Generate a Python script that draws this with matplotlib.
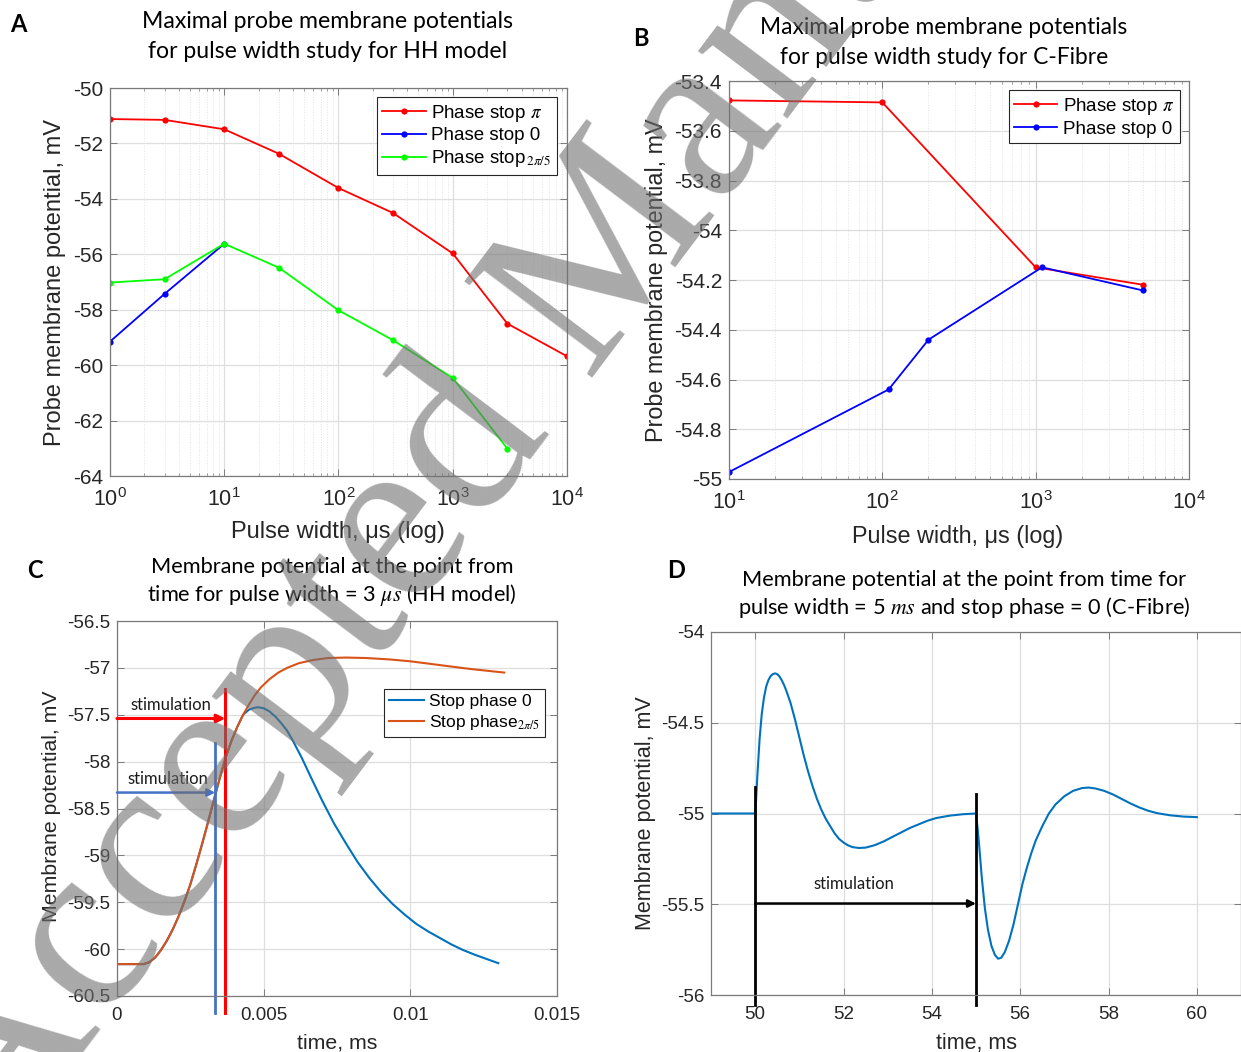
import numpy as np
import matplotlib.pyplot as plt
from matplotlib.ticker import FuncFormatter, LogLocator, NullFormatter, MultipleLocator

plt.rcParams['font.family'] = ['Liberation Sans', 'DejaVu Sans']
plt.rcParams['mathtext.fontset'] = 'stix'
plt.rcParams['axes.unicode_minus'] = False

# ---- panel A: HH model, max probe potential vs pulse width
a_width = [1, 3, 10, 30, 100, 300, 1000, 3000, 10000]
a_pi = [-51.12, -51.15, -51.49, -52.37, -53.61, -54.51, -55.97, -58.50, -59.68]
a_zero_width = [1, 3, 10]
a_zero = [-59.15, -57.43, -55.62]
a_2pi5_width = [1, 3, 10, 30, 100, 300, 1000, 3000]
a_2pi5 = [-57.02, -56.90, -55.62, -56.48, -58.02, -59.10, -60.46, -63.01]

# ---- panel B: C-Fibre
b_pi_width = [10, 100, 1000, 5000]
b_pi = [-53.478, -53.486, -54.149, -54.219]
b_zero_width = [10, 110, 200, 1100, 5000]
b_zero = [-54.972, -54.640, -54.440, -54.149, -54.242]

# ---- panel C: membrane potential vs time, pulse width 3 us
c_t_2pi5 = [0, 0.0009, 0.0011, 0.0013, 0.0015, 0.0017, 0.0019, 0.0021, 0.0023, 0.0025,
            0.0027, 0.0029, 0.0031, 0.0033, 0.0035, 0.0037, 0.0039, 0.0041, 0.0043,
            0.0045, 0.0047, 0.0049, 0.0052, 0.0055, 0.0058, 0.0062, 0.0067, 0.0072,
            0.0078, 0.0085, 0.0093, 0.0100, 0.0110, 0.0120, 0.0132]
c_v_2pi5 = [-60.16, -60.16, -60.14, -60.09, -60.01, -59.91, -59.79, -59.65, -59.49, -59.31,
            -59.10, -58.88, -58.65, -58.41, -58.18, -57.96, -57.78, -57.63, -57.50,
            -57.39, -57.29, -57.21, -57.12, -57.05, -57.00, -56.95, -56.915, -56.895,
            -56.89, -56.895, -56.91, -56.93, -56.97, -57.01, -57.05]
c_t_zero = [0, 0.0009, 0.0011, 0.0013, 0.0015, 0.0017, 0.0019, 0.0021, 0.0023, 0.0025,
            0.0027, 0.0029, 0.0031, 0.0033, 0.0035, 0.0037, 0.0039, 0.0041, 0.0043,
            0.0045, 0.0047, 0.0048, 0.0050, 0.0052, 0.0054, 0.0056, 0.0058, 0.0060,
            0.0063, 0.0066, 0.0070, 0.0074, 0.0078, 0.0082, 0.0086, 0.0090, 0.0094,
            0.0098, 0.0102, 0.0106, 0.0110, 0.0114, 0.0118, 0.0122, 0.0126, 0.0130]
c_v_zero = [-60.16, -60.16, -60.14, -60.09, -60.01, -59.91, -59.79, -59.65, -59.49, -59.31,
            -59.10, -58.88, -58.65, -58.41, -58.18, -57.96, -57.78, -57.63, -57.50,
            -57.445, -57.425, -57.42, -57.43, -57.465, -57.52, -57.59, -57.67, -57.78,
            -57.96, -58.16, -58.42, -58.66, -58.87, -59.07, -59.24, -59.39, -59.52,
            -59.63, -59.73, -59.81, -59.88, -59.95, -60.01, -60.06, -60.105, -60.15]

# ---- panel D: C-Fibre, pulse width 5 ms
d_t = [49, 50, 50.02, 50.05, 50.1, 50.15, 50.2, 50.25, 50.3, 50.35, 50.4, 50.45, 50.5,
       50.55, 50.6, 50.65, 50.7, 50.75, 50.8, 50.9, 51.0, 51.1, 51.2, 51.3, 51.4, 51.5,
       51.6, 51.7, 51.8, 51.9, 52.0, 52.1, 52.2, 52.35, 52.5, 52.7, 52.9, 53.1, 53.3,
       53.5, 53.7, 53.9, 54.1, 54.4, 54.7, 55.0,
       55.04, 55.08, 55.13, 55.2, 55.27, 55.35, 55.43, 55.5, 55.57, 55.65, 55.75, 55.85,
       55.95, 56.05, 56.15, 56.25, 56.35, 56.5, 56.65, 56.8, 57.0, 57.2, 57.4, 57.55,
       57.7, 57.9, 58.1, 58.3, 58.5, 58.7, 58.9, 59.1, 59.4, 59.7, 60.0]
d_v = [-55.0, -55.0, -54.93, -54.79, -54.59, -54.45, -54.36, -54.30, -54.265, -54.243,
       -54.232, -54.228, -54.232, -54.245, -54.265, -54.29, -54.32, -54.355, -54.39,
       -54.48, -54.58, -54.68, -54.77, -54.85, -54.92, -54.98, -55.03, -55.07, -55.11,
       -55.14, -55.16, -55.175, -55.185, -55.19, -55.188, -55.175, -55.155, -55.13,
       -55.105, -55.08, -55.06, -55.04, -55.025, -55.012, -55.004, -55.0,
       -55.09, -55.2, -55.35, -55.52, -55.64, -55.73, -55.78, -55.80, -55.795, -55.765,
       -55.70, -55.61, -55.50, -55.39, -55.30, -55.22, -55.15, -55.07, -55.0, -54.95,
       -54.905, -54.875, -54.86, -54.857, -54.862, -54.875, -54.895, -54.92, -54.945,
       -54.967, -54.985, -54.998, -55.01, -55.017, -55.02]

RED, BLUE, GREEN = (1, 0, 0), (0, 0, 1), (0, 1, 0)
M_BLUE, M_ORANGE = '#0072BD', '#D95319'
TITLE_FONT = 'Lato'

fig = plt.figure(figsize=(12.41, 10.52), dpi=100)


def px_rect(l, t, r, b):
    W, H = 1241, 1052
    return [l / W, 1 - b / H, (r - l) / W, (b - t) / H]


def fig_text(x, y, s, **kw):
    fig.text(x / 1241, 1 - y / 1052, s, ha='center', va='center', **kw)


def matlab_style(ax, fs, log=False):
    for s in ax.spines.values():
        s.set_color('#7a7a7a')
        s.set_linewidth(0.9)
    ax.tick_params(which='both', direction='in', top=True, right=True,
                   colors='#7a7a7a', labelcolor='#262626', labelsize=fs, pad=5)
    ax.tick_params(axis='x', pad=9 if log else 8)
    ax.tick_params(which='major', length=5, width=0.7)
    ax.tick_params(which='minor', length=2.5, width=0.5)
    ax.grid(True, which='major', color='#dedede', lw=0.9)
    if log:
        ax.grid(True, which='minor', axis='x', color='#e4e4e4', lw=0.7, ls=':')
        ax.tick_params(axis='x', labelsize=fs + 0.5)
    ax.set_axisbelow(True)


gfmt = FuncFormatter(lambda v, p: '{:g}'.format(round(v, 6)))


def matlab_legend(ax, anchor, fs, hl):
    leg = ax.legend(loc='upper right', bbox_to_anchor=anchor, fontsize=fs,
                    fancybox=False, edgecolor='#262626', framealpha=1, borderaxespad=0,
                    handlelength=hl, handletextpad=0.3, labelspacing=0.2, borderpad=0.3)
    leg.get_frame().set_linewidth(0.8)


# ================= A =================
ax = fig.add_axes(px_rect(110, 88, 567, 476))
ax.set_xscale('log')
ax.plot(a_width, a_pi, '-o', color=RED, lw=1.3, ms=4.5, mew=0, label=r'Phase stop $\pi$')
ax.plot(a_zero_width, a_zero, '-o', color=BLUE, lw=1.3, ms=4.5, mew=0, label='Phase stop 0')
ax.plot(a_2pi5_width, a_2pi5, '-o', color=GREEN, lw=1.3, ms=4.5, mew=0,
        label=r'Phase stop$_{\,2\pi/5}$')
ax.set_xlim(1, 1e4)
ax.set_ylim(-64, -50)
ax.yaxis.set_major_locator(MultipleLocator(2))
ax.yaxis.set_major_formatter(gfmt)
ax.xaxis.set_minor_locator(LogLocator(subs=np.arange(2, 10)))
ax.xaxis.set_minor_formatter(NullFormatter())
matlab_style(ax, 15, log=True)
matlab_legend(ax, (0.978, 0.977), 13.5, 2.3)
fig_text(328, 22, 'Maximal probe membrane potentials', fontsize=16.6, family=TITLE_FONT)
fig_text(328, 52, 'for pulse width study for HH model', fontsize=16.6, family=TITLE_FONT)
fig_text(18, 25, 'A', fontsize=17, family=TITLE_FONT, weight='bold')
fig_text(55, 282, 'Probe membrane potential, mV', fontsize=17, rotation=90, color='#262626')
fig_text(338, 532, 'Pulse width, μs (log)', fontsize=17, color='#262626')

# ================= B =================
ax = fig.add_axes(px_rect(729, 81, 1189, 479))
ax.set_xscale('log')
ax.plot(b_pi_width, b_pi, '-o', color=RED, lw=1.3, ms=4.5, mew=0, label=r'Phase stop $\pi$')
ax.plot(b_zero_width, b_zero, '-o', color=BLUE, lw=1.3, ms=4.5, mew=0, label='Phase stop 0')
ax.set_xlim(10, 1e4)
ax.set_ylim(-55, -53.4)
ax.yaxis.set_major_locator(MultipleLocator(0.2))
ax.yaxis.set_major_formatter(gfmt)
ax.xaxis.set_minor_locator(LogLocator(subs=np.arange(2, 10)))
ax.xaxis.set_minor_formatter(NullFormatter())
matlab_style(ax, 15, log=True)
matlab_legend(ax, (0.980, 0.977), 13.5, 2.3)
fig_text(944, 28, 'Maximal probe membrane potentials', fontsize=16.4, family=TITLE_FONT)
fig_text(944, 58, 'for pulse width study for C-Fibre', fontsize=16.4, family=TITLE_FONT)
fig_text(641, 38, 'B', fontsize=17, family=TITLE_FONT, weight='bold')
fig_text(657, 280, 'Probe membrane potential, mV', fontsize=16.8, rotation=90, color='#262626')
fig_text(958, 536, 'Pulse width, μs (log)', fontsize=16.8, color='#262626')

# ================= C =================
ax = fig.add_axes(px_rect(117, 621, 557, 996))
ax.plot(c_t_zero, c_v_zero, color=M_BLUE, lw=1.5, label='Stop phase 0')
ax.plot(c_t_2pi5, c_v_2pi5, color=M_ORANGE, lw=1.5, label=r'Stop phase$_{2\pi/5}$')
ax.set_xlim(0, 0.015)
ax.set_ylim(-60.5, -56.5)
ax.xaxis.set_major_locator(MultipleLocator(0.005))
ax.yaxis.set_major_locator(MultipleLocator(0.5))
ax.xaxis.set_major_formatter(gfmt)
ax.yaxis.set_major_formatter(gfmt)
matlab_style(ax, 13.5)
matlab_legend(ax, (0.973, 0.819), 12.5, 2.0)
# stimulation markers
stim_red_t, stim_red_v = 0.00369, -57.54
stim_blue_t, stim_blue_v = 0.00335, -58.33
ax.plot([stim_red_t, stim_red_t], [-60.685, -57.22], color='#FF0000', lw=2.2, clip_on=False)
ax.plot([stim_blue_t, stim_blue_t], [-60.685, -57.80], color='#4472C4', lw=2.0, clip_on=False)
ax.annotate('', xy=(stim_red_t, stim_red_v), xytext=(0, stim_red_v),
            arrowprops=dict(arrowstyle='-|>', color='#FF0000', lw=2.2, mutation_scale=12,
                            shrinkA=0, shrinkB=0))
ax.annotate('', xy=(stim_blue_t, stim_blue_v), xytext=(0, stim_blue_v),
            arrowprops=dict(arrowstyle='-|>', color='#4472C4', lw=1.8, mutation_scale=11,
                            shrinkA=0, shrinkB=0))
ax.text(0.00184, -57.40, 'stimulation', ha='center', va='center', fontsize=12,
        family=TITLE_FONT, color='#1a1a1a')
ax.text(0.00173, -58.19, 'stimulation', ha='center', va='center', fontsize=12,
        family=TITLE_FONT, color='#1a1a1a')
fig_text(332, 567, 'Membrane potential at the point from', fontsize=15.7, family=TITLE_FONT)
fig_text(332, 595, r'time for pulse width = 3 $\mu s$ (HH model)', fontsize=15.7, family=TITLE_FONT)
fig_text(35, 570, 'C', fontsize=17, family=TITLE_FONT, weight='bold')
fig_text(52, 806, 'Membrane potential, mV', fontsize=15.3, rotation=90, color='#262626')
fig_text(337, 1043, 'time, ms', fontsize=15.3, color='#262626')

# ================= D =================
ax = fig.add_axes(px_rect(711, 632, 1241, 995))
ax.plot(d_t, d_v, color=M_BLUE, lw=1.5)
ax.set_xlim(49, 61)
ax.set_ylim(-56, -54)
ax.xaxis.set_major_locator(MultipleLocator(2))
ax.yaxis.set_major_locator(MultipleLocator(0.5))
ax.yaxis.set_major_formatter(gfmt)
matlab_style(ax, 13.5)
stim_start, stim_end, stim_v = 50, 55, -55.496
ax.plot([stim_start, stim_start], [-56.055, -54.855], color='black', lw=2.0, clip_on=False)
ax.plot([stim_end, stim_end], [-56.055, -54.89], color='black', lw=2.0, clip_on=False)
ax.annotate('', xy=(stim_end, stim_v), xytext=(stim_start, stim_v),
            arrowprops=dict(arrowstyle='-|>', color='black', lw=1.8, mutation_scale=11,
                            shrinkA=0, shrinkB=0))
ax.text(52.24, -55.386, 'stimulation', ha='center', va='center', fontsize=12,
        family=TITLE_FONT, color='#1a1a1a')
fig_text(964, 580, 'Membrane potential at the point from time for', fontsize=15.7, family=TITLE_FONT)
fig_text(964, 608, r'pulse width = 5 $ms$ and stop phase = 0 (C-Fibre)', fontsize=15.7,
         family=TITLE_FONT)
fig_text(676, 570, 'D', fontsize=17, family=TITLE_FONT, weight='bold')
fig_text(645, 813, 'Membrane potential, mV', fontsize=15.5, rotation=90, color='#262626')
fig_text(976, 1043, 'time, ms', fontsize=15.5, color='#262626')

# watermark
fig.text(-0.0027, -0.111, 'Accepted Manuscript', rotation=53, rotation_mode='anchor',
         ha='left', va='baseline', fontsize=176, family='Liberation Serif',
         color='#707070', alpha=0.6, zorder=10)

fig.savefig('out.png', dpi=100)
